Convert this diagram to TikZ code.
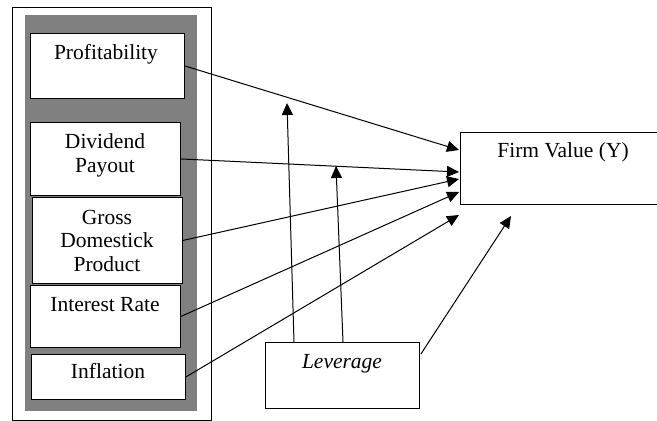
\documentclass[tikz,border=0pt]{standalone}
\usepackage{fontspec}
\setmainfont{Liberation Serif}
\usetikzlibrary{arrows.meta,calc}
\begin{document}
\begin{tikzpicture}[x=1pt,y=-1pt,
  every node/.style={font=\fontsize{21.5}{23.5}\selectfont},
  box/.style={draw=black,line width=0.9pt,fill=white,rectangle,inner sep=0pt,anchor=north west},
  lbl/.style={anchor=base,inner sep=0pt,align=center},
  link/.style={draw=black,line width=1pt,-{Triangle[length=12pt,width=11pt]}}]
\useasboundingbox (0,0) rectangle (657,421);
% frame and shaded panel holding the independent variables
\draw[line width=0.9pt,fill=white] (12,7) rectangle (211,420);
\fill[black!50] (25,15) rectangle (197,411);
% independent variables
\node[box,minimum width=154pt,minimum height=65pt] (prof) at (30,33) {};
\node[box,minimum width=150pt,minimum height=73pt] (div) at (30,122) {};
\node[box,minimum width=150pt,minimum height=86pt] (gdp) at (32,197) {};
\node[box,minimum width=150pt,minimum height=62pt] (int) at (30,285) {};
\node[box,minimum width=154pt,minimum height=45pt] (infl) at (31,354) {};
% multi-line labels sit on the baseline of their last line
\node[lbl] (profT) at (106,59) {Profitability};
\node[lbl] (divT) at (105,172) {Dividend\\Payout};
\node[lbl] (gdpT) at (107,271) {Gross\\Domestick\\Product};
\node[lbl] (intT) at (105,311) {Interest Rate};
\node[lbl] (inflT) at (108,378) {Inflation};
% dependent variable and moderator
\node[box,minimum width=200pt,minimum height=72pt] (firm) at (460,132) {};
\node[lbl] (firmT) at (563,157) {Firm Value (Y)};
\node[box,minimum width=154pt,minimum height=66pt] (lev) at (265,342) {};
\node[lbl] (levT) at (342,368) {\itshape Leverage};
% arrow end points
\coordinate (t1) at (459,150);
\coordinate (t2) at (459,172);
\coordinate (t3) at (459,179);
\coordinate (t4) at (459,192);
\coordinate (t5) at (459,215);
\coordinate (m1) at (287,103);
\coordinate (m2) at (336,166);
\coordinate (m3) at (511,216);
% direct effects
\draw[link] (prof.east) -- (t1);
\draw[link] (div.east) -- (t2);
\draw[link] (gdp.east) -- (t3);
\draw[link] (int.east) -- (t4);
\draw[link] (infl.east) -- (t5);
% moderating effects
\draw[link] (lev.north west) ++(29,0) -- (m1);
\draw[link] (lev.north west) ++(78,0) -- (m2);
\draw[link] ($(lev.north east)+(1,12)$) -- (m3);
\end{tikzpicture}
\end{document}
